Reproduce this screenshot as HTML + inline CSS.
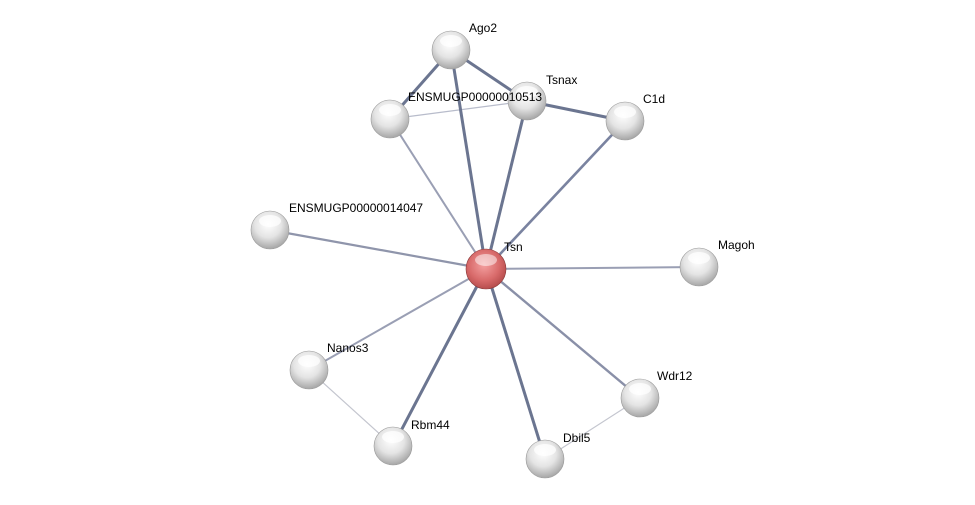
<!DOCTYPE html>
<html><head><meta charset="utf-8"><style>
html,body{margin:0;padding:0;background:#fff;width:975px;height:505px;overflow:hidden}
text{font-family:"Liberation Sans",sans-serif;font-size:12px;fill:#000}
</style></head><body>
<svg width="975" height="505" xmlns="http://www.w3.org/2000/svg">
<defs>
<radialGradient id="g" cx="45%" cy="35%" r="70%">
<stop offset="0" stop-color="#ffffff"/><stop offset="0.5" stop-color="#e4e4e4"/><stop offset="1" stop-color="#9c9c9c"/></radialGradient>
<radialGradient id="r" cx="45%" cy="40%" r="70%">
<stop offset="0" stop-color="#f4a0a0"/><stop offset="0.55" stop-color="#d86a6a"/><stop offset="1" stop-color="#a84040"/></radialGradient>
<g id="hl"><ellipse cx="0" cy="-9" rx="11" ry="6" fill="#fff" opacity="0.75"/></g>
</defs>
<g stroke-linecap="round">
<line x1="451" y1="50" x2="390" y2="119" stroke="#6b7590" stroke-width="3"/>
<line x1="451" y1="50" x2="527" y2="101" stroke="#6b7590" stroke-width="3"/>
<line x1="527" y1="101" x2="625" y2="121" stroke="#6b7590" stroke-width="3"/>
<line x1="390" y1="119" x2="527" y2="101" stroke="#b8bccb" stroke-width="1.2"/>
<line x1="309" y1="370" x2="393" y2="446" stroke="#c4c6cf" stroke-width="1.2"/>
<line x1="640" y1="398" x2="545" y2="459" stroke="#c4c6cf" stroke-width="1.2"/>
<line x1="486" y1="269" x2="451" y2="50" stroke="#6b7590" stroke-width="3"/>
<line x1="486" y1="269" x2="390" y2="119" stroke="#9a9fb4" stroke-width="2"/>
<line x1="486" y1="269" x2="527" y2="101" stroke="#6b7590" stroke-width="3"/>
<line x1="486" y1="269" x2="625" y2="121" stroke="#7a83a0" stroke-width="2.6"/>
<line x1="486" y1="269" x2="270" y2="230" stroke="#8f95ab" stroke-width="2.2"/>
<line x1="486" y1="269" x2="699" y2="267" stroke="#9a9fb4" stroke-width="2"/>
<line x1="486" y1="269" x2="309" y2="370" stroke="#9a9fb4" stroke-width="2"/>
<line x1="486" y1="269" x2="393" y2="446" stroke="#6b7590" stroke-width="3"/>
<line x1="486" y1="269" x2="545" y2="459" stroke="#6b7590" stroke-width="3"/>
<line x1="486" y1="269" x2="640" y2="398" stroke="#8a90a8" stroke-width="2.4"/>
</g>
<g>
<circle cx="451" cy="50" r="19" fill="url(#g)" stroke="#999" stroke-width="0.6"/><use href="#hl" x="451" y="50"/>
<circle cx="390" cy="119" r="19" fill="url(#g)" stroke="#999" stroke-width="0.6"/><use href="#hl" x="390" y="119"/>
<circle cx="527" cy="101" r="19" fill="url(#g)" stroke="#999" stroke-width="0.6"/><use href="#hl" x="527" y="101"/>
<circle cx="625" cy="121" r="19" fill="url(#g)" stroke="#999" stroke-width="0.6"/><use href="#hl" x="625" y="121"/>
<circle cx="270" cy="230" r="19" fill="url(#g)" stroke="#999" stroke-width="0.6"/><use href="#hl" x="270" y="230"/>
<circle cx="699" cy="267" r="19" fill="url(#g)" stroke="#999" stroke-width="0.6"/><use href="#hl" x="699" y="267"/>
<circle cx="309" cy="370" r="19" fill="url(#g)" stroke="#999" stroke-width="0.6"/><use href="#hl" x="309" y="370"/>
<circle cx="640" cy="398" r="19" fill="url(#g)" stroke="#999" stroke-width="0.6"/><use href="#hl" x="640" y="398"/>
<circle cx="393" cy="446" r="19" fill="url(#g)" stroke="#999" stroke-width="0.6"/><use href="#hl" x="393" y="446"/>
<circle cx="545" cy="459" r="19" fill="url(#g)" stroke="#999" stroke-width="0.6"/><use href="#hl" x="545" y="459"/>
<circle cx="486" cy="269" r="20" fill="url(#r)" stroke="#8a3a3a" stroke-width="0.6"/><ellipse cx="486" cy="260" rx="11" ry="6" fill="#fff" opacity="0.5"/>
</g>
<text x="469" y="32">Ago2</text>
<text x="408" y="101">ENSMUGP00000010513</text>
<text x="546" y="84">Tsnax</text>
<text x="643" y="103">C1d</text>
<text x="289" y="212">ENSMUGP00000014047</text>
<text x="504" y="251">Tsn</text>
<text x="718" y="249">Magoh</text>
<text x="327" y="352">Nanos3</text>
<text x="657" y="380">Wdr12</text>
<text x="411" y="429">Rbm44</text>
<text x="563" y="442">Dbil5</text>
</svg>
</body></html>
